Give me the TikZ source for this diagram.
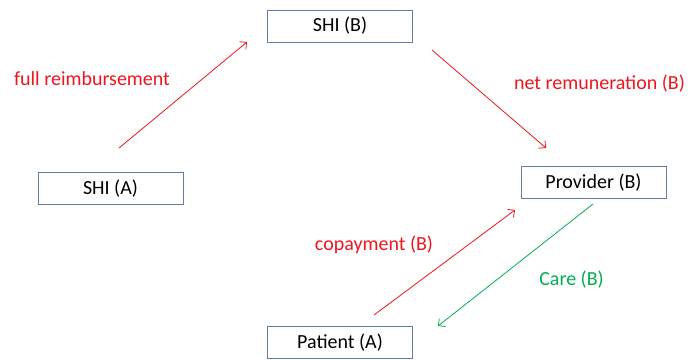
\documentclass[tikz,border=0pt]{standalone}
\usepackage{fontspec}
\setmainfont{Carlito}
\usepackage{tikz}
\usetikzlibrary{positioning, arrows.meta}
\definecolor{boxline}{RGB}{100,125,165}
\definecolor{payred}{RGB}{240,20,30}
\definecolor{caregreen}{RGB}{0,176,80}
\tikzstyle{partybox} = [draw=boxline, line width=0.9pt,
minimum width = 145pt, minimum height = 32pt,
inner sep = 0pt, font=\fontsize{20}{24}\selectfont]
\tikzstyle{flowlabel} = [font=\fontsize{20}{24}\selectfont, inner sep=0pt]
\tikzstyle{flow} = [line width=0.8pt,
-{Straight Barb[length=5pt, width=10pt, line width=0.8pt]}]

\begin{document}
\begin{tikzpicture}[x=1pt, y=1pt]
	\useasboundingbox (0, 0) rectangle (693, -359);
	%% parties
	\node[partybox](shiB) at (340, -26) {SHI (B)};
	\node[partybox](shiA) at (110.5, -188.5) {SHI (A)};
	\node[partybox](prov) at (593.5, -182.5) {Provider (B)};
	\node[partybox](pat) at (340, -342.5) {Patient (A)};
	%% arrow ends
	\coordinate (aStart) at (119, -148);
	\coordinate (aEnd) at (247, -42);
	\coordinate (bStart) at (432, -50);
	\coordinate (bEnd) at (546, -148);
	\coordinate (cStart) at (374, -315);
	\coordinate (cEnd) at (515, -210);
	\coordinate (dStart) at (593, -204);
	\coordinate (dEnd) at (438, -326);
	%% money flows
	\draw[flow, payred] (aStart) -- (aEnd);
	\draw[flow, payred] (bStart) -- (bEnd);
	\draw[flow, payred] (cStart) -- (cEnd);
	%% care flow
	\draw[flow, caregreen] (dStart) -- (dEnd);
	%% labels
	\node[flowlabel, text=payred](lblFull) at (92, -79) {full reimbursement};
	\node[flowlabel, text=payred](lblNet) at (599.5, -84) {net remuneration (B)};
	\node[flowlabel, text=payred](lblCopay) at (374, -245) {copayment (B)};
	\node[flowlabel, text=caregreen](lblCare) at (571.5, -280) {Care (B)};
\end{tikzpicture}
\end{document}
